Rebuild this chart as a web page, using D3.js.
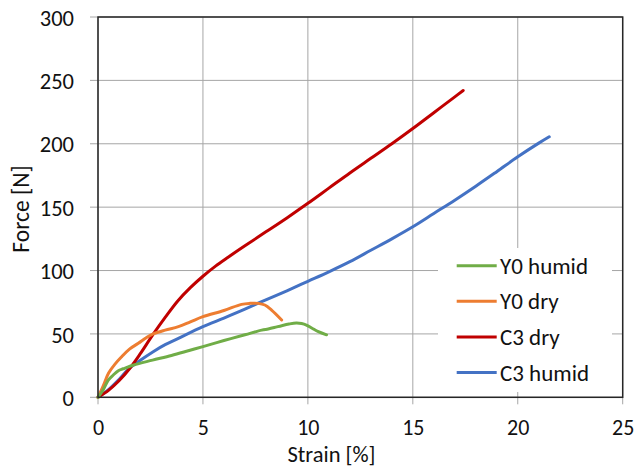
<!DOCTYPE html>
<html>
<head>
<meta charset="utf-8">
<script src="https://cdn.jsdelivr.net/npm/d3@7"></script>
<style>
  html, body { margin: 0; padding: 0; background: #fff; }
  svg { display: block; }
  text { font-family: Carlito, Calibri, Lato, sans-serif; fill: #111; }
</style>
</head>
<body>
<svg id="chart" width="635" height="472"></svg>
<script>
// ---- data ----
const xTicks = [0, 5, 10, 15, 20, 25];
const yTicks = [0, 50, 100, 150, 200, 250, 300];
const seriesNames = ["Y0 humid", "Y0 dry", "C3 dry", "C3 humid"];
const seriesColors = ["#70AD47", "#ED7D31", "#C00000", "#4472C4"];

const y0HumidStrain = [0, 0.25, 0.49, 0.73, 0.97, 1.2, 1.7, 2.6, 3.5, 4.3, 5, 6, 7, 7.8, 8.11, 8.4, 8.75, 9.1, 9.45, 9.7, 9.93, 10.2, 10.5, 10.89];
const y0HumidForce  = [0, 6, 13.6, 17.6, 21, 22.5, 25.5, 29.3, 33, 36.7, 40, 44.8, 49.3, 53, 53.9, 55, 56.5, 57.8, 58.6, 58.2, 57, 54.5, 51.8, 49.3];

const y0DryStrain = [0, 0.25, 0.5, 0.8, 1.13, 1.5, 1.92, 2.3, 2.63, 3.2, 3.83, 4.4, 5, 6, 6.84, 7.24, 7.63, 7.95, 8.27, 8.75];
const y0DryForce  = [0, 9, 19, 26, 32, 38, 42.6, 47, 50, 53, 55.7, 59.5, 63.6, 68.5, 73.3, 74.1, 74.1, 72.8, 68.8, 61];

const c3DryStrain = [0, 0.5, 1, 1.5, 2, 2.6, 3.2, 3.8, 4.4, 5, 5.6, 6.2, 7, 8, 9, 10, 11, 12, 13, 14, 15, 16, 17, 17.4];
const c3DryForce  = [0, 5.5, 13, 22.5, 34, 49, 63, 76, 86.5, 95.5, 103.5, 110.5, 119.5, 130.5, 141.5, 153, 165, 177, 188.5, 200, 212, 224.5, 237, 242];

const c3HumidStrain = [0, 0.5, 1, 1.44, 2, 2.63, 3.2, 3.83, 5, 6, 7, 7.8, 9, 10, 11, 12, 13, 14, 15, 16, 17, 18, 19, 20, 21, 21.5];
const c3HumidForce  = [0, 6, 14, 22, 29, 36, 41.5, 46.5, 55.7, 62.5, 69.5, 75.4, 84, 91.5, 99, 107, 116, 125, 134.5, 145, 155.5, 166.5, 178, 189.7, 200.5, 205.5];

const seriesStrain = [y0HumidStrain, y0DryStrain, c3DryStrain, c3HumidStrain];
const seriesForce  = [y0HumidForce, y0DryForce, c3DryForce, c3HumidForce];

// ---- layout ----
const svg = d3.select("#chart");
const pL = 98, pR = 622.7, pT = 17, pB = 397.3;
const fontFam = "Carlito, Calibri, Lato, sans-serif";

const x = d3.scaleLinear().domain([0, 25]).range([pL, pR]);
const y = d3.scaleLinear().domain([0, 300]).range([pB, pT]);

// gridlines + outward ticks (gray)
const gridColor = "#a6a6a6";
const g = svg.append("g");
g.selectAll("line.vg").data(xTicks).enter().append("line")
  .attr("x1", d => x(d)).attr("x2", d => x(d))
  .attr("y1", pT).attr("y2", pB + 7)
  .attr("stroke", gridColor).attr("stroke-width", 1);
g.selectAll("line.hg").data(yTicks).enter().append("line")
  .attr("x1", pL - 8).attr("x2", pR)
  .attr("y1", d => y(d)).attr("y2", d => y(d))
  .attr("stroke", gridColor).attr("stroke-width", 1);

// axes via d3 (labels only)
const xAxis = d3.axisBottom(x).tickValues(xTicks).tickSize(0).tickPadding(0);
const yAxis = d3.axisLeft(y).tickValues(yTicks).tickSize(0).tickPadding(0);
const gx = svg.append("g").attr("transform", `translate(0,${pB})`).call(xAxis);
const gy = svg.append("g").attr("transform", `translate(0,0)`).call(yAxis);
[gx, gy].forEach(a => a.select(".domain").remove());
gx.selectAll("text").attr("y", 38.2).attr("dy", 0)
  .style("font-size", "22px").style("font-family", fontFam).attr("fill", "#111");
gy.selectAll("text").attr("x", 74).attr("dy", "0.36em")
  .style("font-size", "22.5px").style("font-family", fontFam).attr("fill", "#111");

// lines
const line = d3.line().x(d => x(d[0])).y(d => y(d[1])).curve(d3.curveCatmullRom.alpha(0.5));
const drawOrder = [3, 2, 1, 0];
drawOrder.forEach(i => {
  const pts = seriesStrain[i].map((s, k) => [s, seriesForce[i][k]]);
  svg.append("path").datum(pts)
    .attr("d", line)
    .attr("fill", "none")
    .attr("stroke", seriesColors[i])
    .attr("stroke-width", 3)
    .attr("stroke-linejoin", "round")
    .attr("stroke-linecap", "round");
});

// plot border
svg.append("rect").attr("x", pL).attr("y", pT)
  .attr("width", pR - pL).attr("height", pB - pT)
  .attr("fill", "none").attr("stroke", "#262626").attr("stroke-width", 1.5);

// legend
const lg = svg.append("g");
lg.append("rect").attr("x", 438).attr("y", 248).attr("width", 174).attr("height", 144).attr("fill", "#fff");
seriesNames.forEach((name, i) => {
  const cy = 265.7 + i * 35.6;
  lg.append("line").attr("x1", 456.7).attr("x2", 496.7).attr("y1", cy).attr("y2", cy)
    .attr("stroke", seriesColors[i]).attr("stroke-width", 3);
  lg.append("text").attr("x", 500).attr("y", cy + 8)
    .style("font-size", "23px").text(name);
});

// axis titles
svg.append("text").attr("x", 331.5).attr("y", 462).attr("text-anchor", "middle")
  .style("font-size", "22.5px").text("Strain [%]");
svg.append("text").attr("transform", "translate(28.5,209) rotate(-90)").attr("text-anchor", "middle")
  .style("font-size", "23.5px").text("Force [N]");
</script>
</body>
</html>
